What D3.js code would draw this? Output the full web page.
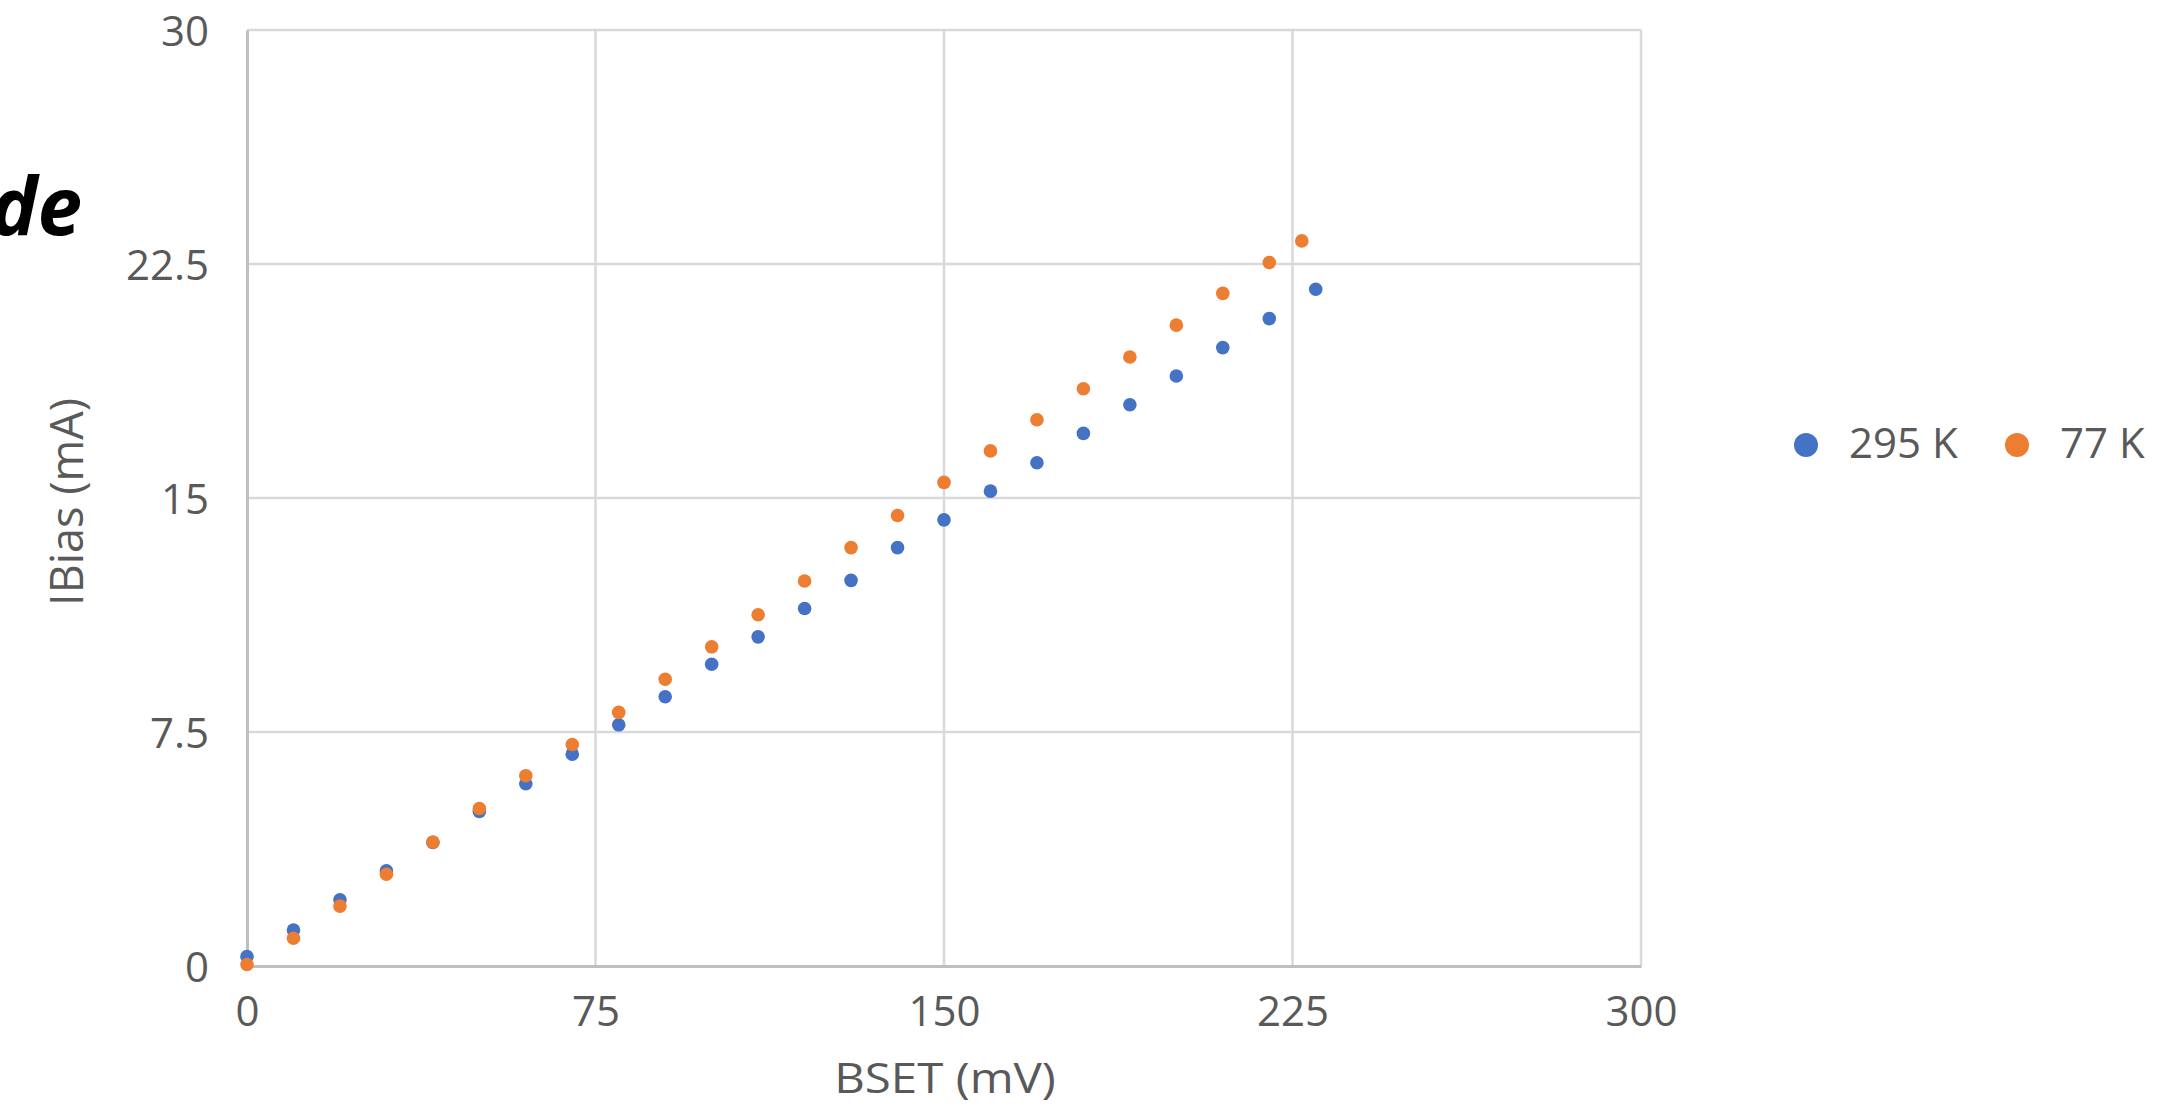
<!DOCTYPE html>
<html>
<head>
<meta charset="utf-8">
<script src="https://cdn.jsdelivr.net/npm/d3@7"></script>
<style>
  html, body { margin: 0; padding: 0; background: #fff; }
  svg { display: block; }
  text { font-family: "Open Sans", sans-serif; fill: #595959; }
</style>
</head>
<body>
<svg id="chart" width="2162" height="1115"></svg>
<script>
// BSET sweep (mV) and measured bias current (mA) at two temperatures
const bsetWarm = [0, 10, 20, 30, 40, 50, 60, 70, 80, 90, 100, 110, 120, 130, 140, 150, 160, 170, 180, 190, 200, 210, 220, 230];
const ibiasWarm = [0.30, 1.15, 2.12, 3.05, 3.96, 4.95, 5.84, 6.79, 7.73, 8.63, 9.67, 10.55, 11.46, 12.36, 13.41, 14.30, 15.22, 16.13, 17.07, 17.99, 18.91, 19.82, 20.75, 21.69];

const bsetCold = [0, 10, 20, 30, 40, 50, 60, 70, 80, 90, 100, 110, 120, 130, 140, 150, 160, 170, 180, 190, 200, 210, 220, 227];
const ibiasCold = [0.05, 0.89, 1.92, 2.94, 3.97, 5.05, 6.10, 7.10, 8.13, 9.19, 10.23, 11.26, 12.34, 13.41, 14.44, 15.50, 16.51, 17.51, 18.50, 19.52, 20.54, 21.56, 22.55, 23.24];

const seriesNames = ["295 K", "77 K"];
const seriesColors = ["#4472C4", "#ED7D31"];

const xTicks = [0, 75, 150, 225, 300];
const yTicks = [0, 7.5, 15, 22.5, 30];

const svg = d3.select("#chart");

const x = d3.scaleLinear().domain([0, 300]).range([247, 1641]);
const y = d3.scaleLinear().domain([0, 30]).range([966, 30]);

// partially visible heading at the left edge
svg.append("text")
  .attr("x", 82).attr("y", 235)
  .attr("text-anchor", "end")
  .style("font-size", "80px")
  .style("font-weight", "bold")
  .style("font-style", "italic")
  .style("fill", "#000")
  .text("de");

// gridlines
const grid = svg.append("g");
grid.selectAll("line.h").data(yTicks.slice(1)).join("line")
  .attr("x1", x(0)).attr("x2", x(300))
  .attr("y1", d => y(d)).attr("y2", d => y(d))
  .attr("stroke", "#d9d9d9").attr("stroke-width", 2.5);
grid.selectAll("line.v").data(xTicks.slice(1)).join("line")
  .attr("y1", y(0)).attr("y2", y(30))
  .attr("x1", d => x(d)).attr("x2", d => x(d))
  .attr("stroke", "#d9d9d9").attr("stroke-width", 2.5);

// axes
const xAxis = d3.axisBottom(x).tickValues(xTicks).tickSize(0).tickPadding(30)
  .tickFormat(d3.format("d"));
const yAxis = d3.axisLeft(y).tickValues(yTicks).tickSize(0).tickPadding(38)
  .tickFormat(d => d);

const gx = svg.append("g").attr("transform", `translate(0,${y(0)})`).call(xAxis);
const gy = svg.append("g").attr("transform", `translate(${x(0)},0)`).call(yAxis);
[gx, gy].forEach(g => {
  g.select(".domain").attr("stroke", "#bfbfbf").attr("stroke-width", 3);
  g.selectAll("text").style("font-size", "42px").attr("fill", "#595959");
});
gx.selectAll("text").attr("dy", "0.71em");
gy.selectAll("text").attr("dy", "0.36em");

// axis titles
svg.append("text")
  .attr("transform", "translate(945,1093) scale(1.13,1)")
  .attr("text-anchor", "middle")
  .style("font-size", "42px")
  .text("BSET (mV)");

svg.append("text")
  .attr("transform", "translate(83,502) rotate(-90)")
  .attr("text-anchor", "middle")
  .style("font-size", "45px")
  .text("IBias (mA)");

// data points
const series = [
  { xs: bsetWarm, ys: ibiasWarm },
  { xs: bsetCold, ys: ibiasCold }
];
series.forEach((s, i) => {
  svg.append("g").selectAll("circle")
    .data(s.xs.map((v, k) => [v, s.ys[k]]))
    .join("circle")
    .attr("cx", d => x(d[0]))
    .attr("cy", d => y(d[1]))
    .attr("r", 6.8)
    .attr("fill", seriesColors[i]);
});

// legend
const legendX = [1806, 2017];
const legend = svg.append("g");
seriesNames.forEach((name, i) => {
  legend.append("circle")
    .attr("cx", legendX[i]).attr("cy", 445).attr("r", 12)
    .attr("fill", seriesColors[i]);
  legend.append("text")
    .attr("x", legendX[i] + 43).attr("y", 458)
    .style("font-size", "42px")
    .text(name);
});
</script>
</body>
</html>
